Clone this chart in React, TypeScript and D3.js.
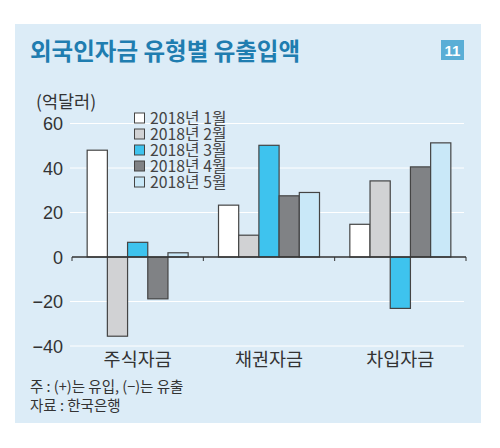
import React from "react";
import * as d3 from "d3";

const categories = ["주식자금", "채권자금", "차입자금"];
const seriesNames = ["2018년 1월", "2018년 2월", "2018년 3월", "2018년 4월", "2018년 5월"];
const jan = [48, 23.3, 14.7];
const feb = [-35.6, 9.8, 34.2];
const mar = [6.6, 50.2, -23.1];
const apr = [-18.8, 27.5, 40.5];
const may = [1.9, 29, 51.3];
const seriesValues = [jan, feb, mar, apr, may];
const seriesColors = ["#ffffff", "#d1d2d4", "#3ec3ee", "#808285", "#c9e8f8"];
const yTicks = [60, 40, 20, 0, -20, -40];

const W = 500;
const H = 448;
const FONT = "'Noto Sans CJK KR', 'Noto Sans', sans-serif";
const NUMFONT = "'Liberation Sans', Arial, sans-serif";

export default function App() {
  const y = d3.scaleLinear().domain([-40, 60]).range([346, 123.5]);
  const x0 = d3.scaleBand<string>().domain(categories).range([72, 466]).paddingInner(0).paddingOuter(0);
  const groupW = x0.bandwidth();
  const barsW = 101;
  const x1 = d3
    .scaleBand<number>()
    .domain(d3.range(seriesNames.length))
    .range([(groupW - barsW) / 2, (groupW + barsW) / 2])
    .padding(0);
  const zero = y(0);

  return (
    <div style={{ position: "absolute", left: 0, top: 0, width: W, height: H }}>
      <svg width={W} height={H} style={{ display: "block" }} fontFamily={FONT}>
        <rect x={0} y={0} width={W} height={H} fill="#ffffff" />
        <rect x={15} y={24} width={466} height={399} fill="#dcecf7" />
        <text x={30} y={60} fontSize={23.5} fontWeight={700} fill="#1f7db0">
          외국인자금 유형별 유출입액
        </text>
        <rect x={441} y={40} width={23} height={20} fill="#5aaed6" />
        <text x={452.5} y={56} fontSize={15} fontWeight={700} fill="#ffffff" textAnchor="middle" fontFamily={NUMFONT}>
          11
        </text>
        <text x={36} y={108} fontSize={17.5} fill="#333">(억달러)</text>
        {yTicks.map((t) => (
          <g key={t}>
            {t !== 0 && (
              <line x1={70} x2={464} y1={y(t)} y2={y(t)} stroke="#ffffff" strokeWidth={1} />
            )}
            <text x={63} y={y(t) + 6.5} fontSize={18} fill="#333" textAnchor="end" fontFamily={NUMFONT}>
              {t < 0 ? "\u2212" + Math.abs(t) : String(t)}
            </text>
          </g>
        ))}
        {categories.map((c, ci) => (
          <g key={c} transform={`translate(${x0(c)},0)`}>
            {seriesValues.map((vals, si) => {
              const v = vals[ci];
              const top = Math.min(y(v), zero);
              const h = Math.abs(y(v) - zero);
              return (
                <rect
                  key={si}
                  x={x1(si)}
                  y={top}
                  width={x1.bandwidth()}
                  height={h}
                  fill={seriesColors[si]}
                  stroke="#444"
                  strokeWidth={1.2}
                />
              );
            })}
            <text x={groupW / 2} y={366} fontSize={18.5} fill="#333" textAnchor="middle">
              {c}
            </text>
          </g>
        ))}
        <line x1={72} x2={466} y1={zero} y2={zero} stroke="#333" strokeWidth={1.3} />
        {[...categories.map((c) => x0(c) as number), 466].map((tx, i) => (
          <line key={i} x1={tx} x2={tx} y1={zero} y2={zero + 4} stroke="#333" strokeWidth={1} />
        ))}
        {seriesNames.map((s, i) => (
          <g key={s} transform={`translate(134,${118 + i * 16})`}>
            <rect x={0.5} y={-5} width={10} height={10} fill={seriesColors[i]} stroke="#444" strokeWidth={1} />
            <text x={16} y={6} fontSize={15.8} fill="#444">
              {s}
            </text>
          </g>
        ))}
        <text x={30} y={392} fontSize={14.5} fill="#333">주 : (+)는 유입, (−)는 유출</text>
        <text x={30} y={411} fontSize={14.5} fill="#333">자료 : 한국은행</text>
      </svg>
    </div>
  );
}
